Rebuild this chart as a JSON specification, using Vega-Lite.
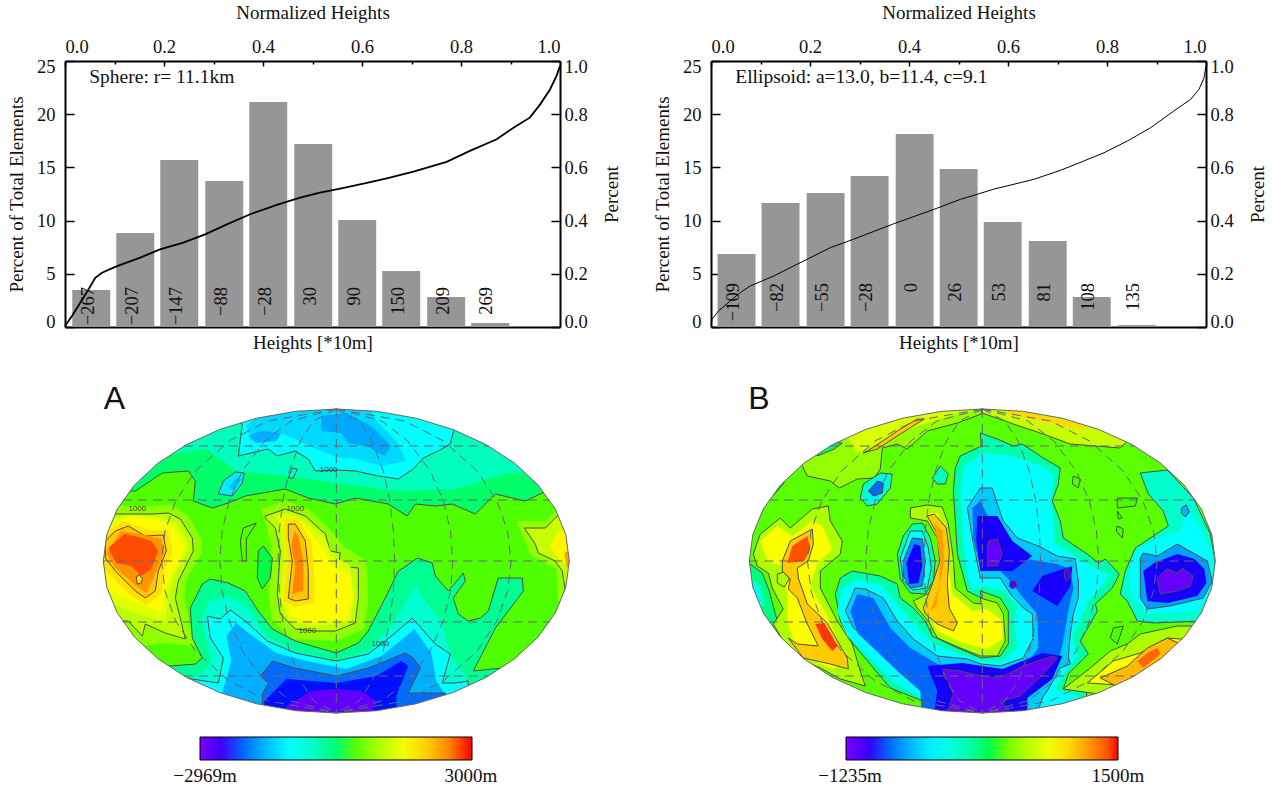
{"$schema":"https://vega.github.io/schema/vega-lite/v6.json","background":"white","padding":{"left":7,"top":3,"right":5,"bottom":5},"config":{"view":{"stroke":null},"font":"Liberation Serif","axis":{"labelFont":"Liberation Serif","titleFont":"Liberation Serif","labelFontSize":18.5,"titleFontSize":19,"titleFontWeight":"normal","labelColor":"#111","titleColor":"#111","domainColor":"black","tickColor":"black","domainWidth":2,"tickWidth":1.5,"grid":false,"labelOverlap":false}},
"resolve":{"scale":{"fill":"independent"},"legend":{"fill":"independent"}},
"datasets":{
"gr":[{"type":"MultiLineString","coordinates":[[[-213.4,61],[213.4,61]],[[-213.4,-61],[213.4,-61]],[[-152.4,115],[152.4,115]],[[-152.4,-115],[152.4,-115]],[[-233,0],[233,0]],[[0,152],[0,-152]],
[[0,152],[22.7,140],[35.8,120],[46.9,90],[53.5,60],[57.1,30],[58.2,0],[57.1,-30],[53.5,-60],[46.9,-90],[35.8,-120],[22.7,-140],[0,-152]],
[[0,152],[-22.7,140],[-35.8,120],[-46.9,90],[-53.5,60],[-57.1,30],[-58.2,0],[-57.1,-30],[-53.5,-60],[-46.9,-90],[-35.8,-120],[-22.7,-140],[0,-152]],
[[0,152],[45.4,140],[71.5,120],[93.9,90],[107.1,60],[114.2,30],[116.5,0],[114.2,-30],[107.1,-60],[93.9,-90],[71.5,-120],[45.4,-140],[0,-152]],
[[0,152],[-45.4,140],[-71.5,120],[-93.9,90],[-107.1,60],[-114.2,30],[-116.5,0],[-114.2,-30],[-107.1,-60],[-93.9,-90],[-71.5,-120],[-45.4,-140],[0,-152]],
[[0,152],[68.2,140],[107.3,120],[140.9,90],[160.6,60],[171.3,30],[174.8,0],[171.3,-30],[160.6,-60],[140.9,-90],[107.3,-120],[68.2,-140],[0,-152]],
[[0,152],[-68.2,140],[-107.3,120],[-140.9,90],[-160.6,60],[-171.3,30],[-174.8,0],[-171.3,-30],[-160.6,-60],[-140.9,-90],[-107.3,-120],[-68.2,-140],[0,-152]]]}],
"mask":[{"type":"Polygon","coordinates":[[[-250,-170],[250,-170],[250,170],[-250,170],[-250,-170]],[[233,0],[229.5,-26.4],[219,-52],[201.8,-76],[178.5,-97.7],[149.8,-116.4],[116.5,-131.6],[79.7,-142.8],[40.5,-149.7],[0,-152],[-40.5,-149.7],[-79.7,-142.8],[-116.5,-131.6],[-149.8,-116.4],[-178.5,-97.7],[-201.8,-76],[-219,-52],[-229.5,-26.4],[-233,0],[-229.5,26.4],[-219,52],[-201.8,76],[-178.5,97.7],[-149.8,116.4],[-116.5,131.6],[-79.7,142.8],[-40.5,149.7],[0,152],[40.5,149.7],[79.7,142.8],[116.5,131.6],[149.8,116.4],[178.5,97.7],[201.8,76],[219,52],[229.5,26.4],[233,0]]]}],
"rim":[{"type":"LineString","coordinates":[[233,0],[229.5,-26.4],[219,-52],[201.8,-76],[178.5,-97.7],[149.8,-116.4],[116.5,-131.6],[79.7,-142.8],[40.5,-149.7],[0,-152],[-40.5,-149.7],[-79.7,-142.8],[-116.5,-131.6],[-149.8,-116.4],[-178.5,-97.7],[-201.8,-76],[-219,-52],[-229.5,-26.4],[-233,0],[-229.5,26.4],[-219,52],[-201.8,76],[-178.5,97.7],[-149.8,116.4],[-116.5,131.6],[-79.7,142.8],[-40.5,149.7],[0,152],[40.5,149.7],[79.7,142.8],[116.5,131.6],[149.8,116.4],[178.5,97.7],[201.8,76],[219,52],[229.5,26.4],[233,0]]}],
"mapA":[
{"v":450,"c":0,"type":"Polygon","coordinates":[[[-245,-165],[245,-165],[245,165],[-245,165],[-245,-165]]]},
{"v":50,"c":1,"type":"Polygon","coordinates":[[[-240,70],[-201,70],[-174,88],[-148,90],[-141,80],[-143,60],[-124,53],[-108,58],[-91,65],[-74,68],[-51,72],[-28,63],[-1,57],[19,63],[52,57],[71,45],[79,57],[99,55],[116,57],[139,47],[159,67],[189,60],[206,68],[240,68],[240,160],[-240,160],[-240,70]]]},
{"v":-400,"c":0,"type":"Polygon","coordinates":[[[-180,105],[-130,112],[-100,90],[-50,85],[0,78],[60,70],[120,72],[170,88],[240,90],[240,160],[-240,160],[-180,105]]]},
{"v":-1000,"c":1,"type":"Polygon","coordinates":[[[-98,105],[-68,112],[-59,105],[-41,110],[-28,102],[-21,90],[0,91],[19,90],[42,85],[62,82],[77,92],[87,103],[102,110],[114,117],[125,160],[-130,160],[-94,137],[-98,105]]]},
{"v":-1300,"c":0,"type":"Polygon","coordinates":[[[-85,120],[-55,128],[-20,112],[0,104],[20,102],[45,95],[70,100],[60,120],[40,140],[30,160],[-60,160],[-90,135],[-85,120]]]},
{"v":-1650,"c":0,"type":"Polygon","coordinates":[[[-15,130],[5,128],[12,118],[30,115],[48,105],[55,115],[35,135],[10,148],[-15,145],[-15,130]]]},
{"v":-1600,"c":0,"type":"Polygon","coordinates":[[[-80,118],[-60,120],[-55,128],[-75,130],[-88,125],[-80,118]]]},
{"v":-1150,"c":1,"type":"Polygon","coordinates":[[[-118,67],[-113,80],[-101,89],[-92,88],[-94,78],[-104,65],[-118,67]]]},
{"v":-1500,"c":0,"type":"Polygon","coordinates":[[[-108,73],[-99,84],[-95,82],[-102,71],[-108,73]]]},
{"v":-400,"c":1,"type":"Polygon","coordinates":[[[-48,83],[-44,93],[-39,92],[-43,83],[-48,83]]]},
{"v":750,"c":0,"type":"Polygon","coordinates":[[[-225,55],[-184,55],[-165,56],[-148,45],[-134,20],[-135,8],[-150,-18],[-152,-37],[-142,-85],[-171,-82],[-195,-85],[-215,-70],[-240,-60],[-240,55],[-225,55]]]},
{"v":1050,"c":1,"type":"Polygon","coordinates":[[[-240,47],[-221,47],[-184,47],[-168,48],[-156,42],[-144,23],[-143,10],[-158,-20],[-161,-37],[-151,-78],[-171,-72],[-191,-63],[-194,-75],[-208,-60],[-240,-60],[-240,47]]]},
{"v":1350,"c":0,"type":"Polygon","coordinates":[[[-232,40],[-208,46],[-175,44],[-160,37],[-148,18],[-150,8],[-163,-15],[-168,-37],[-170,-60],[-195,-55],[-240,-35],[-240,40],[-232,40]]]},
{"v":1650,"c":0,"type":"Polygon","coordinates":[[[-225,35],[-205,45],[-175,40],[-160,30],[-152,12],[-160,-5],[-170,-25],[-175,-50],[-200,-42],[-235,-25],[-240,10],[-225,35]]]},
{"v":1850,"c":0,"type":"Polygon","coordinates":[[[-213,40],[-188,31],[-168,30],[-164,10],[-172,-10],[-175,-33],[-190,-44],[-205,-35],[-228,-12],[-240,5],[-237,25],[-213,40]]]},
{"v":2050,"c":1,"type":"Polygon","coordinates":[[[-208,35],[-191,25],[-173,26],[-170,10],[-178,-10],[-181,-30],[-191,-37],[-201,-30],[-221,-10],[-231,3],[-231,20],[-221,30],[-208,35]]]},
{"v":2400,"c":0,"type":"Polygon","coordinates":[[[-230,8],[-215,30],[-195,27],[-175,22],[-172,8],[-182,-15],[-190,-32],[-200,-25],[-222,-6],[-230,8]]]},
{"v":2800,"c":0,"type":"Polygon","coordinates":[[[-228,13],[-212,27],[-198,24],[-185,20],[-178,10],[-185,-8],[-195,-15],[-205,-5],[-220,-2],[-228,13]]]},
{"v":1800,"c":1,"type":"Polygon","coordinates":[[[-200,-16],[-197,-14],[-194,-17],[-195,-22],[-199,-23],[-200,-16]]]},
{"v":750,"c":0,"type":"Polygon","coordinates":[[[180,40],[209,40],[222,52],[240,50],[240,-40],[222,-40],[220,-8],[195,5],[180,40]]]},
{"v":1150,"c":1,"type":"Polygon","coordinates":[[[188,33],[209,33],[221,45],[240,50],[240,-30],[229,-30],[226,-10],[219,0],[202,8],[199,17],[188,33]]]},
{"v":1700,"c":0,"type":"Polygon","coordinates":[[[214,15],[222,30],[240,30],[240,-5],[224,0],[214,15]]]},
{"v":2300,"c":0,"type":"Polygon","coordinates":[[[228,8],[240,15],[240,-8],[230,-6],[228,8]]]},
{"v":750,"c":0,"type":"Polygon","coordinates":[[[-75,52],[-51,60],[-28,52],[-5,30],[8,14],[30,0],[32,-38],[28,-68],[-1,-80],[-45,-78],[-65,-58],[-68,-30],[-65,15],[-70,35],[-75,52]]]},
{"v":1050,"c":1,"type":"Polygon","coordinates":[[[-71,45],[-51,52],[-31,45],[-11,27],[-6,10],[4,8],[2,-5],[22,-7],[22,-37],[19,-62],[-1,-70],[-21,-70],[-41,-68],[-56,-53],[-59,-33],[-56,10],[-61,33],[-71,43],[-71,45]]]},
{"v":1350,"c":0,"type":"Polygon","coordinates":[[[-62,45],[-50,48],[-31,40],[-11,22],[-3,4],[14,-4],[18,-36],[14,-60],[-20,-66],[-48,-60],[-56,-35],[-52,10],[-55,33],[-62,45]]]},
{"v":1650,"c":0,"type":"Polygon","coordinates":[[[-50,42],[-35,38],[-15,15],[-6,0],[0,-8],[14,-15],[17,-35],[10,-58],[-20,-62],[-45,-55],[-52,-35],[-48,10],[-52,30],[-50,42]]]},
{"v":1850,"c":0,"type":"Polygon","coordinates":[[[-52,42],[-38,42],[-25,20],[-22,-12],[-22,-42],[-42,-46],[-53,-40],[-49,0],[-53,25],[-52,42]]]},
{"v":2050,"c":1,"type":"Polygon","coordinates":[[[-48,37],[-41,37],[-31,20],[-28,-10],[-28,-38],[-41,-40],[-48,-37],[-44,0],[-48,23],[-48,37]]]},
{"v":2500,"c":0,"type":"Polygon","coordinates":[[[-42,30],[-38,25],[-33,0],[-33,-30],[-44,-33],[-41,-5],[-45,15],[-42,30]]]},
{"v":180,"c":1,"type":"Polygon","coordinates":[[[-78,10],[-73,15],[-64,3],[-66,-17],[-74,-28],[-79,-17],[-78,10]]]},
{"v":450,"c":1,"type":"Polygon","coordinates":[[[-94,0],[-96,20],[-93,33],[-80,38],[-90,22],[-90,0],[-94,0]]]},
{"v":-150,"c":1,"type":"Polygon","coordinates":[[[-240,-105],[-166,-105],[-141,-103],[-134,-97],[-144,-77],[-146,-47],[-134,-23],[-126,-18],[-108,-22],[-91,-30],[-78,-50],[-64,-68],[-41,-80],[0,-92],[22,-82],[32,-70],[49,-37],[62,-10],[67,-7],[81,3],[96,-2],[99,-15],[112,-30],[127,-12],[129,-20],[117,-37],[122,-53],[132,-60],[144,-57],[152,-50],[162,-17],[186,-17],[187,-30],[172,-50],[159,-67],[137,-110],[166,-107],[240,-107],[240,-160],[-240,-160],[-240,-105]]]},
{"v":-550,"c":0,"type":"Polygon","coordinates":[[[-160,-125],[-135,-112],[-125,-100],[-135,-60],[-128,-40],[-108,-35],[-90,-45],[-70,-75],[-40,-90],[0,-100],[30,-90],[55,-65],[70,-40],[80,-25],[88,-40],[105,-60],[115,-95],[130,-115],[130,-160],[-160,-160],[-160,-125]]]},
{"v":-1000,"c":1,"type":"Polygon","coordinates":[[[-151,-117],[-118,-122],[-116,-113],[-113,-97],[-126,-77],[-129,-55],[-116,-58],[-106,-49],[-91,-60],[-69,-80],[-41,-92],[0,-100],[32,-93],[59,-72],[76,-57],[99,-83],[114,-93],[106,-122],[119,-122],[132,-120],[132,-165],[-160,-165],[-151,-117]]]},
{"v":-1600,"c":0,"type":"Polygon","coordinates":[[[-115,-135],[-105,-100],[-110,-75],[-100,-62],[-88,-72],[-60,-92],[-30,-100],[10,-108],[45,-95],[70,-75],[78,-68],[95,-92],[100,-120],[110,-135],[110,-165],[-115,-165],[-115,-135]]]},
{"v":-2000,"c":1,"type":"Polygon","coordinates":[[[-74,-133],[-68,-122],[-76,-115],[-64,-100],[-41,-107],[0,-115],[32,-107],[69,-92],[77,-97],[84,-107],[72,-132],[109,-132],[109,-165],[-74,-165],[-74,-133]]]},
{"v":-2300,"c":0,"type":"Polygon","coordinates":[[[-72,-140],[-50,-118],[0,-122],[40,-115],[65,-100],[72,-105],[60,-135],[60,-165],[-72,-165],[-72,-140]]]},
{"v":-2750,"c":0,"type":"Polygon","coordinates":[[[-50,-145],[-25,-130],[0,-128],[25,-130],[40,-140],[30,-165],[-50,-165],[-50,-145]]]}
],
"mapB":[
{"v":350,"c":0,"type":"Polygon","coordinates":[[[-245,-165],[245,-165],[245,165],[-245,165],[-245,-165]]]},
{"v":480,"c":1,"type":"Polygon","coordinates":[[[-175,85],[-152,80],[-143,73],[-125,82],[-108,83],[-102,92],[-100,113],[-85,117],[-75,112],[-55,130],[-25,138],[-1,147],[-1,165],[-150,165],[-190,115],[-175,85]]]},
{"v":720,"c":0,"type":"Polygon","coordinates":[[[-125,108],[-95,122],[-65,135],[-30,146],[-1,152],[-1,165],[-110,165],[-135,125],[-125,108]]]},
{"v":1050,"c":1,"type":"Polygon","coordinates":[[[-119,108],[-110,113],[-85,130],[-65,142],[-58,142],[-82,127],[-105,112],[-119,108]]]},
{"v":650,"c":1,"type":"Polygon","coordinates":[[[0,148],[31,137],[58,128],[88,117],[138,113],[150,125],[105,140],[40,160],[0,160],[0,148]]]},
{"v":1000,"c":0,"type":"Polygon","coordinates":[[[25,152],[65,145],[105,135],[100,131],[60,139],[25,147],[25,152]]]},
{"v":120,"c":1,"type":"Polygon","coordinates":[[[-222,47],[-214,60],[-199,77],[-190,100],[-240,100],[-240,47],[-222,47]]]},
{"v":150,"c":1,"type":"Polygon","coordinates":[[[-165,105],[-148,112],[-140,118],[-155,118],[-165,112],[-165,105]]]},
{"v":100,"c":1,"type":"Polygon","coordinates":[[[-232,-3],[-220,-12],[-213,-30],[-205,-60],[-215,-70],[-240,-30],[-232,-3]]]},
{"v":-200,"c":0,"type":"Polygon","coordinates":[[[-235,-15],[-222,-25],[-218,-45],[-235,-45],[-235,-15]]]},
{"v":560,"c":1,"type":"Polygon","coordinates":[[[-229,7],[-222,27],[-202,43],[-192,33],[-170,52],[-154,55],[-152,40],[-140,20],[-142,7],[-162,-10],[-162,-27],[-145,-60],[-130,-83],[-122,-110],[-117,-125],[-142,-118],[-162,-107],[-185,-97],[-199,-80],[-209,-63],[-199,-48],[-210,-27],[-214,-12],[-225,-5],[-229,7]]]},
{"v":850,"c":0,"type":"Polygon","coordinates":[[[-222,20],[-205,35],[-190,25],[-170,40],[-160,35],[-150,12],[-165,-2],[-172,-25],[-155,-55],[-135,-100],[-150,-108],[-185,-92],[-195,-60],[-195,-35],[-200,-5],[-215,0],[-222,20]]]},
{"v":560,"c":1,"type":"Polygon","coordinates":[[[-205,-13],[-198,-11],[-193,-18],[-198,-26],[-205,-22],[-205,-13]]]},
{"v":1050,"c":1,"type":"Polygon","coordinates":[[[-200,0],[-192,20],[-170,32],[-169,17],[-174,0],[-185,-7],[-184,-17],[-175,-43],[-155,-62],[-135,-97],[-134,-108],[-152,-103],[-179,-97],[-194,-77],[-185,-83],[-164,-85],[-175,-63],[-185,-37],[-194,-28],[-192,-18],[-200,-10],[-200,0]]]},
{"v":1400,"c":0,"type":"Polygon","coordinates":[[[-190,15],[-175,25],[-172,12],[-178,0],[-195,-2],[-190,15]]]},
{"v":1450,"c":0,"type":"Polygon","coordinates":[[[-167,-63],[-158,-62],[-145,-85],[-150,-90],[-160,-78],[-167,-63]]]},
{"v":0,"c":1,"type":"Polygon","coordinates":[[[-27,93],[-22,105],[-1,115],[-2,128],[15,122],[31,115],[40,117],[61,103],[78,93],[76,77],[70,60],[78,40],[81,23],[105,7],[116,-2],[123,2],[137,-13],[130,-27],[113,-43],[115,-50],[98,-80],[106,-93],[86,-113],[81,-128],[105,-128],[100,-165],[-70,-165],[-52,-143],[-92,-127],[-109,-107],[-129,-83],[-142,-60],[-147,-33],[-142,-17],[-130,-10],[-102,-15],[-85,-23],[-82,-37],[-69,-47],[-57,-60],[-50,-75],[-29,-85],[-1,-97],[18,-95],[26,-83],[26,-50],[18,-37],[-2,-30],[-1,-37],[-15,-30],[-25,7],[-27,40],[-29,70],[-27,93]]]},
{"v":-332,"c":0,"type":"Polygon","coordinates":[[[-18,95],[0,108],[30,105],[60,95],[72,85],[68,60],[72,35],[72,18],[100,0],[118,-10],[128,-13],[120,-25],[106,-40],[100,-55],[90,-75],[95,-95],[80,-115],[72,-128],[95,-135],[95,-165],[-60,-165],[-60,-138],[-90,-120],[-110,-100],[-135,-75],[-145,-50],[-140,-28],[-125,-18],[-100,-25],[-88,-40],[-75,-55],[-50,-82],[-25,-92],[-1,-100],[18,-100],[35,-88],[32,-60],[35,-45],[22,-30],[0,-25],[-10,-30],[-15,-15],[-20,30],[-22,70],[-18,95]]]},
{"v":-520,"c":1,"type":"Polygon","coordinates":[[[-2,73],[10,73],[15,57],[21,40],[35,23],[56,15],[75,5],[93,2],[96,-20],[96,-37],[91,-53],[88,-73],[86,-97],[88,-103],[78,-107],[65,-130],[61,-135],[50,-165],[-55,-165],[-54,-143],[-55,-130],[-75,-113],[-95,-93],[-112,-78],[-129,-67],[-137,-50],[-127,-27],[-117,-28],[-99,-37],[-85,-60],[-69,-78],[-45,-95],[-15,-98],[-1,-103],[18,-105],[41,-97],[51,-77],[50,-53],[41,-47],[28,-33],[18,-17],[-2,-17],[-2,-17],[-10,23],[-15,53],[-2,73]]]},
{"v":-800,"c":0,"type":"Polygon","coordinates":[[[-2,60],[8,40],[18,23],[38,3],[75,-3],[88,-8],[91,-27],[86,-50],[81,-80],[76,-100],[58,-120],[38,-137],[0,-165],[-60,-165],[-62,-130],[-85,-110],[-109,-87],[-125,-72],[-132,-50],[-125,-33],[-109,-37],[-92,-67],[-72,-87],[-45,-103],[-1,-112],[15,-112],[41,-107],[56,-87],[55,-53],[41,-37],[28,-20],[18,-10],[-2,-7],[-9,23],[-10,53],[-2,60]]]},
{"v":-950,"c":0,"type":"Polygon","coordinates":[[[-55,-105],[-20,-102],[20,-108],[60,-92],[80,-95],[70,-118],[45,-137],[45,-165],[-50,-165],[-45,-130],[-55,-105]]]},
{"v":-950,"c":0,"type":"Polygon","coordinates":[[[-5,45],[15,45],[30,20],[50,5],[30,-10],[-2,-10],[-6,20],[-5,45]]]},
{"v":-950,"c":0,"type":"Polygon","coordinates":[[[60,-15],[90,-5],[88,-25],[75,-45],[50,-30],[60,-15]]]},
{"v":-1150,"c":1,"type":"Polygon","coordinates":[[[-39,-108],[-22,-110],[-1,-115],[18,-117],[41,-105],[70,-95],[75,-97],[61,-113],[38,-135],[18,-140],[40,-165],[-40,-165],[-29,-133],[-39,-108]]]},
{"v":-1150,"c":1,"type":"Polygon","coordinates":[[[6,20],[15,22],[20,7],[15,-5],[5,-5],[5,10],[6,20]]]},
{"v":-1050,"c":1,"type":"Polygon","coordinates":[[[28,-20],[33,-20],[35,-25],[30,-28],[27,-25],[28,-20]]]},
{"v":-1050,"c":1,"type":"Polygon","coordinates":[[[83,-8],[87,-8],[88,-16],[84,-20],[82,-15],[83,-8]]]},
{"v":0,"c":1,"type":"Polygon","coordinates":[[[-85,7],[-79,25],[-70,37],[-60,38],[-52,23],[-47,0],[-49,-20],[-57,-33],[-72,-32],[-82,-18],[-85,7]]]},
{"v":-332,"c":1,"type":"Polygon","coordinates":[[[-82,3],[-72,30],[-60,30],[-54,13],[-51,-7],[-55,-27],[-69,-29],[-79,-20],[-82,3]]]},
{"v":-700,"c":1,"type":"Polygon","coordinates":[[[-79,0],[-70,23],[-60,22],[-57,0],[-60,-25],[-72,-27],[-79,-15],[-79,0]]]},
{"v":-950,"c":0,"type":"Polygon","coordinates":[[[-76,-2],[-68,17],[-62,15],[-60,-5],[-64,-22],[-73,-23],[-76,-2]]]},
{"v":560,"c":1,"type":"Polygon","coordinates":[[[-72,53],[-55,56],[-40,54],[-34,37],[-29,3],[-27,-27],[-9,-42],[-1,-43],[-2,-37],[15,-42],[21,-53],[23,-80],[15,-95],[-2,-95],[-22,-87],[-45,-77],[-54,-60],[-65,-47],[-69,-40],[-49,-30],[-42,-7],[-45,23],[-55,40],[-72,43],[-72,53]]]},
{"v":870,"c":0,"type":"Polygon","coordinates":[[[-57,47],[-45,48],[-35,25],[-33,-10],[-30,-33],[-10,-50],[5,-48],[20,-60],[20,-78],[5,-88],[-20,-82],[-45,-70],[-55,-50],[-55,-40],[-42,-28],[-37,-5],[-42,25],[-52,40],[-57,47]]]},
{"v":1050,"c":1,"type":"Polygon","coordinates":[[[-55,45],[-48,47],[-36,33],[-33,10],[-35,-23],[-33,-47],[-25,-62],[-29,-70],[-45,-63],[-57,-53],[-59,-47],[-50,-23],[-40,7],[-45,27],[-55,45]]]},
{"v":1200,"c":0,"type":"Polygon","coordinates":[[[-48,38],[-40,30],[-38,0],[-42,-20],[-46,-45],[-52,-50],[-44,-28],[-42,0],[-48,38]]]},
{"v":-100,"c":1,"type":"Polygon","coordinates":[[[-122,63],[-119,77],[-102,88],[-90,87],[-92,73],[-105,57],[-115,55],[-122,63]]]},
{"v":-400,"c":0,"type":"Polygon","coordinates":[[[-115,65],[-108,78],[-97,85],[-97,75],[-108,60],[-115,65]]]},
{"v":-800,"c":1,"type":"Polygon","coordinates":[[[-114,70],[-105,80],[-99,78],[-100,68],[-109,65],[-114,70]]]},
{"v":-50,"c":1,"type":"Polygon","coordinates":[[[-50,83],[-42,95],[-34,87],[-37,77],[-45,77],[-50,83]]]},
{"v":-100,"c":1,"type":"Polygon","coordinates":[[[158,88],[185,91],[211,63],[228,27],[233,0],[231,-27],[218,-60],[171,-62],[155,-60],[145,-40],[138,-33],[143,-10],[153,13],[171,25],[186,35],[181,50],[166,67],[158,88]]]},
{"v":-332,"c":0,"type":"Polygon","coordinates":[[[153,10],[171,20],[198,30],[205,53],[218,33],[230,7],[230,-27],[215,-50],[165,-53],[151,-37],[146,-20],[153,10]]]},
{"v":-650,"c":1,"type":"Polygon","coordinates":[[[158,3],[161,8],[175,5],[195,17],[211,8],[225,0],[230,-20],[221,-37],[188,-45],[165,-48],[158,-37],[158,3]]]},
{"v":-950,"c":0,"type":"Polygon","coordinates":[[[161,-10],[172,-2],[195,7],[212,2],[222,-8],[224,-22],[215,-35],[185,-42],[165,-40],[161,-10]]]},
{"v":-1150,"c":1,"type":"Polygon","coordinates":[[[175,-17],[185,-8],[195,-12],[200,-7],[211,-15],[208,-25],[195,-30],[178,-33],[175,-17]]]},
{"v":-600,"c":1,"type":"Polygon","coordinates":[[[199,53],[204,56],[207,49],[203,44],[199,48],[199,53]]]},
{"v":320,"c":1,"type":"Polygon","coordinates":[[[91,85],[98,82],[96,73],[90,77],[91,85]]]},
{"v":320,"c":1,"type":"Polygon","coordinates":[[[135,63],[155,63],[153,55],[135,53],[135,63]]]},
{"v":320,"c":1,"type":"Polygon","coordinates":[[[135,50],[140,43],[136,42],[135,50]]]},
{"v":320,"c":1,"type":"Polygon","coordinates":[[[135,35],[141,32],[140,23],[134,30],[135,35]]]},
{"v":320,"c":1,"type":"Polygon","coordinates":[[[131,-67],[141,-65],[135,-83],[128,-77],[131,-67]]]},
{"v":560,"c":1,"type":"Polygon","coordinates":[[[81,-128],[108,-107],[128,-90],[145,-83],[158,-73],[195,-65],[211,-65],[240,-65],[240,-160],[130,-135],[81,-128]]]},
{"v":870,"c":1,"type":"Polygon","coordinates":[[[105,-122],[131,-100],[158,-92],[185,-77],[198,-78],[240,-78],[240,-160],[150,-125],[105,-122]]]},
{"v":1100,"c":1,"type":"Polygon","coordinates":[[[118,-117],[145,-105],[165,-87],[185,-77],[196,-82],[230,-100],[180,-135],[140,-128],[118,-117]]]},
{"v":1350,"c":0,"type":"Polygon","coordinates":[[[155,-100],[165,-92],[175,-87],[178,-93],[161,-107],[155,-100]]]}
]},
"spacing":646,"bounds":"flush",
"hconcat":[
{"spacing":50,"bounds":"flush","vconcat":[
{"width":495,"height":266,"resolve":{"scale":{"y":"independent"},"axis":{"x":"independent","y":"independent"}},"layer":[
{"data":{"values":[{"h":"−267","x0":0.0147,"x1":0.0914,"mid":0.046,"pct":3.48},{"h":"−207","x0":0.1036,"x1":0.1803,"mid":0.135,"pct":8.83},{"h":"−147","x0":0.1925,"x1":0.2692,"mid":0.224,"pct":15.7},{"h":"−88","x0":0.2834,"x1":0.3601,"mid":0.315,"pct":13.72},{"h":"−28","x0":0.3722,"x1":0.4489,"mid":0.404,"pct":21.15},{"h":"30","x0":0.4631,"x1":0.5398,"mid":0.494,"pct":17.2},{"h":"90","x0":0.552,"x1":0.6287,"mid":0.583,"pct":10.06},{"h":"150","x0":0.6409,"x1":0.7176,"mid":0.672,"pct":5.26},{"h":"209","x0":0.7317,"x1":0.8084,"mid":0.763,"pct":2.82},{"h":"269","x0":0.8206,"x1":0.8973,"mid":0.851,"pct":0.38}]},
"layer":[
{"mark":{"type":"bar","color":"#969696"},"encoding":{"x":{"field":"x0","type":"quantitative","scale":{"domain":[0,1],"nice":false},"axis":{"orient":"top","title":"Normalized Heights","titlePadding":13,"labelPadding":10,"values":[0,0.05,0.1,0.15,0.2,0.25,0.3,0.35,0.4,0.45,0.5,0.55,0.6,0.65,0.7,0.75,0.8,0.85,0.9,0.95,1],"labelExpr":"abs(datum.value*5-round(datum.value*5))<0.001?format(datum.value,'.1f'):''","tickSize":{"condition":{"test":"abs(datum.value*5-round(datum.value*5))<0.001","value":-5},"value":-3}}},"x2":{"field":"x1"},"y":{"field":"pct","type":"quantitative","scale":{"domain":[0,25],"nice":false},"axis":{"orient":"left","title":"Percent of Total Elements","values":[0,5,10,15,20,25],"tickSize":-9,"labelPadding":19,"labelFlush":true,"labelFlushOffset":4,"titlePadding":10}},"y2":{"datum":0}}},
{"mark":{"type":"text","font":"Liberation Serif","fontSize":18.5,"angle":270,"align":"right","baseline":"middle","color":"#111"},"encoding":{"x":{"field":"mid","type":"quantitative"},"y":{"datum":3.76},"text":{"field":"h"}}},
{"data":{"values":[{"x":0.049,"y":22.9,"t":"Sphere: r= 11.1km"}]},"mark":{"type":"text","font":"Liberation Serif","fontSize":19.5,"align":"left","baseline":"alphabetic","color":"#111"},"encoding":{"x":{"field":"x","type":"quantitative"},"y":{"field":"y","type":"quantitative"},"text":{"field":"t"}}}
]},
{"data":{"values":[{"x":0,"p":0.004},{"x":0.0141,"p":0.041},{"x":0.0309,"p":0.091},{"x":0.0477,"p":0.142},{"x":0.0612,"p":0.185},{"x":0.0747,"p":0.204},{"x":0.105,"p":0.229},{"x":0.152,"p":0.261},{"x":0.192,"p":0.292},{"x":0.239,"p":0.317},{"x":0.283,"p":0.348},{"x":0.327,"p":0.386},{"x":0.374,"p":0.424},{"x":0.428,"p":0.459},{"x":0.475,"p":0.486},{"x":0.515,"p":0.505},{"x":0.556,"p":0.52},{"x":0.603,"p":0.539},{"x":0.65,"p":0.559},{"x":0.704,"p":0.584},{"x":0.771,"p":0.621},{"x":0.818,"p":0.662},{"x":0.872,"p":0.706},{"x":0.906,"p":0.749},{"x":0.939,"p":0.787},{"x":0.96,"p":0.837},{"x":0.98,"p":0.894},{"x":0.993,"p":0.944},{"x":1,"p":0.981}]},"mark":{"type":"line","color":"black","strokeWidth":1.8},"encoding":{"x":{"field":"x","type":"quantitative","axis":{"orient":"bottom","title":"Heights [*10m]","labels":false,"ticks":false,"titlePadding":6}},"y":{"field":"p","type":"quantitative","scale":{"domain":[0,1],"nice":false},"axis":{"orient":"right","title":"Percent","titleAngle":270,"values":[0,0.2,0.4,0.6,0.8,1],"format":".1f","tickSize":-9,"labelPadding":13,"labelFlush":true,"labelFlushOffset":4,"titlePadding":34}}}}
]},
{"width":530,"height":415,"projection":{"type":"identity","reflectY":true,"scale":1,"translate":[271.3,184]},"layer":[
{"data":{"name":"mapA"},"mark":{"type":"geoshape","strokeWidth":1,"clip":false},"encoding":{"fill":{"field":"v","type":"quantitative","scale":{"domain":[-2969,-2312,-1000,314,1627,3000],"range":["#7800ff","#0000ff","#00ffff","#00ff00","#ffff00","#ff0000"]},"legend":{"orient":"none","legendX":135,"legendY":676,"direction":"horizontal","gradientLength":272,"gradientThickness":23,"gradientStrokeColor":"black","gradientStrokeWidth":1,"title":null,"values":[-2969,3000],"labelExpr":"''"}},"stroke":{"condition":{"test":"datum.c==1","value":"#4d4d4d"},"value":"transparent"}}},
{"data":{"name":"mask"},"mark":{"type":"geoshape","fill":"white","stroke":null,"clip":false},"encoding":{}},
{"data":{"name":"rim"},"mark":{"type":"geoshape","filled":false,"stroke":"#666","strokeWidth":1,"clip":false},"encoding":{}},
{"data":{"name":"gr"},"mark":{"type":"geoshape","filled":false,"stroke":"#66667a","strokeWidth":1,"strokeDash":[9,6],"clip":false},"encoding":{}},
{"data":{"values":[{"a":-199,"b":52,"t":"1000"},{"a":-41,"b":52,"t":"1000"},{"a":-29,"b":-70,"t":"1000"},{"a":-9,"b":91,"t":"-1000"},{"a":44,"b":-83,"t":"1000"}]},"mark":{"type":"text","font":"Liberation Sans","fontSize":8,"color":"#444"},"encoding":{"longitude":{"field":"a","type":"quantitative"},"latitude":{"field":"b","type":"quantitative"},"text":{"field":"t"}}},
{"data":{"values":[{"a":-232.5,"b":152,"t":"A"}]},"mark":{"type":"text","font":"Liberation Sans","fontSize":32,"align":"left","baseline":"alphabetic","color":"#111"},"encoding":{"longitude":{"field":"a","type":"quantitative"},"latitude":{"field":"b","type":"quantitative"},"text":{"field":"t"}}},
{"data":{"values":[{"a":-163,"b":-221,"t":"−2969m"}]},"mark":{"type":"text","font":"Liberation Serif","fontSize":19,"align":"left","baseline":"alphabetic","color":"#111"},"encoding":{"longitude":{"field":"a","type":"quantitative"},"latitude":{"field":"b","type":"quantitative"},"text":{"field":"t"}}},
{"data":{"values":[{"a":161,"b":-221,"t":"3000m"}]},"mark":{"type":"text","font":"Liberation Serif","fontSize":19,"align":"right","baseline":"alphabetic","color":"#111"},"encoding":{"longitude":{"field":"a","type":"quantitative"},"latitude":{"field":"b","type":"quantitative"},"text":{"field":"t"}}}
]}
]},
{"spacing":50,"bounds":"flush","vconcat":[
{"width":495,"height":266,"resolve":{"scale":{"y":"independent"},"axis":{"x":"independent","y":"independent"}},"layer":[
{"data":{"values":[{"h":"−109","x0":0.0133,"x1":0.0899,"mid":0.045,"pct":6.86},{"h":"−82","x0":0.1022,"x1":0.1788,"mid":0.134,"pct":11.65},{"h":"−55","x0":0.1932,"x1":0.2698,"mid":0.224,"pct":12.6},{"h":"−28","x0":0.2821,"x1":0.3587,"mid":0.313,"pct":14.2},{"h":"0","x0":0.3731,"x1":0.4497,"mid":0.404,"pct":18.14},{"h":"26","x0":0.462,"x1":0.5386,"mid":0.493,"pct":14.85},{"h":"53","x0":0.551,"x1":0.6276,"mid":0.582,"pct":9.87},{"h":"81","x0":0.642,"x1":0.7186,"mid":0.673,"pct":8.08},{"h":"108","x0":0.7309,"x1":0.8075,"mid":0.762,"pct":2.82},{"h":"135","x0":0.8219,"x1":0.8985,"mid":0.853,"pct":0.19}]},
"layer":[
{"mark":{"type":"bar","color":"#969696"},"encoding":{"x":{"field":"x0","type":"quantitative","scale":{"domain":[0,1],"nice":false},"axis":{"orient":"top","title":"Normalized Heights","titlePadding":13,"labelPadding":10,"values":[0,0.05,0.1,0.15,0.2,0.25,0.3,0.35,0.4,0.45,0.5,0.55,0.6,0.65,0.7,0.75,0.8,0.85,0.9,0.95,1],"labelExpr":"abs(datum.value*5-round(datum.value*5))<0.001?format(datum.value,'.1f'):''","tickSize":{"condition":{"test":"abs(datum.value*5-round(datum.value*5))<0.001","value":-5},"value":-3}}},"x2":{"field":"x1"},"y":{"field":"pct","type":"quantitative","scale":{"domain":[0,25],"nice":false},"axis":{"orient":"left","title":"Percent of Total Elements","values":[0,5,10,15,20,25],"tickSize":-9,"labelPadding":19,"labelFlush":true,"labelFlushOffset":4,"titlePadding":10}},"y2":{"datum":0}}},
{"mark":{"type":"text","font":"Liberation Serif","fontSize":18.5,"angle":270,"align":"right","baseline":"middle","color":"#111"},"encoding":{"x":{"field":"mid","type":"quantitative"},"y":{"datum":4.13},"text":{"field":"h"}}},
{"data":{"values":[{"x":0.049,"y":22.9,"t":"Ellipsoid: a=13.0, b=11.4, c=9.1"}]},"mark":{"type":"text","font":"Liberation Serif","fontSize":19.5,"align":"left","baseline":"alphabetic","color":"#111"},"encoding":{"x":{"field":"x","type":"quantitative"},"y":{"field":"y","type":"quantitative"},"text":{"field":"t"}}}
]},
{"data":{"values":[{"x":0,"p":0.004},{"x":0.002,"p":0.029},{"x":0.015,"p":0.06},{"x":0.039,"p":0.098},{"x":0.059,"p":0.129},{"x":0.079,"p":0.154},{"x":0.127,"p":0.192},{"x":0.174,"p":0.236},{"x":0.214,"p":0.273},{"x":0.241,"p":0.298},{"x":0.288,"p":0.33},{"x":0.369,"p":0.388},{"x":0.45,"p":0.442},{"x":0.504,"p":0.48},{"x":0.538,"p":0.499},{"x":0.571,"p":0.518},{"x":0.652,"p":0.555},{"x":0.706,"p":0.589},{"x":0.753,"p":0.624},{"x":0.794,"p":0.655},{"x":0.841,"p":0.699},{"x":0.888,"p":0.749},{"x":0.935,"p":0.812},{"x":0.969,"p":0.856},{"x":0.986,"p":0.894},{"x":0.996,"p":0.937},{"x":1,"p":0.981}]},"mark":{"type":"line","color":"black","strokeWidth":1},"encoding":{"x":{"field":"x","type":"quantitative","axis":{"orient":"bottom","title":"Heights [*10m]","labels":false,"ticks":false,"titlePadding":6}},"y":{"field":"p","type":"quantitative","scale":{"domain":[0,1],"nice":false},"axis":{"orient":"right","title":"Percent","titleAngle":270,"values":[0,0.2,0.4,0.6,0.8,1],"format":".1f","tickSize":-9,"labelPadding":13,"labelFlush":true,"labelFlushOffset":4,"titlePadding":34}}}}
]},
{"width":530,"height":415,"projection":{"type":"identity","reflectY":true,"scale":1,"translate":[271.3,184]},"layer":[
{"data":{"name":"mapB"},"mark":{"type":"geoshape","strokeWidth":1,"clip":false},"encoding":{"fill":{"field":"v","type":"quantitative","scale":{"domain":[-1235,-934,-332,269,871,1500],"range":["#7800ff","#0000ff","#00ffff","#00ff00","#ffff00","#ff0000"]},"legend":{"orient":"none","legendX":135,"legendY":676,"direction":"horizontal","gradientLength":272,"gradientThickness":23,"gradientStrokeColor":"black","gradientStrokeWidth":1,"title":null,"values":[-1235,1500],"labelExpr":"''"}},"stroke":{"condition":{"test":"datum.c==1","value":"#4d4d4d"},"value":"transparent"}}},
{"data":{"name":"mask"},"mark":{"type":"geoshape","fill":"white","stroke":null,"clip":false},"encoding":{}},
{"data":{"name":"rim"},"mark":{"type":"geoshape","filled":false,"stroke":"#666","strokeWidth":1,"clip":false},"encoding":{}},
{"data":{"name":"gr"},"mark":{"type":"geoshape","filled":false,"stroke":"#66667a","strokeWidth":1,"strokeDash":[9,6],"clip":false},"encoding":{}},
{"data":{"values":[{"a":-234,"b":152,"t":"B"}]},"mark":{"type":"text","font":"Liberation Sans","fontSize":32,"align":"left","baseline":"alphabetic","color":"#111"},"encoding":{"longitude":{"field":"a","type":"quantitative"},"latitude":{"field":"b","type":"quantitative"},"text":{"field":"t"}}},
{"data":{"values":[{"a":-164,"b":-221,"t":"−1235m"}]},"mark":{"type":"text","font":"Liberation Serif","fontSize":19,"align":"left","baseline":"alphabetic","color":"#111"},"encoding":{"longitude":{"field":"a","type":"quantitative"},"latitude":{"field":"b","type":"quantitative"},"text":{"field":"t"}}},
{"data":{"values":[{"a":162,"b":-221,"t":"1500m"}]},"mark":{"type":"text","font":"Liberation Serif","fontSize":19,"align":"right","baseline":"alphabetic","color":"#111"},"encoding":{"longitude":{"field":"a","type":"quantitative"},"latitude":{"field":"b","type":"quantitative"},"text":{"field":"t"}}}
]}
]}
]}
